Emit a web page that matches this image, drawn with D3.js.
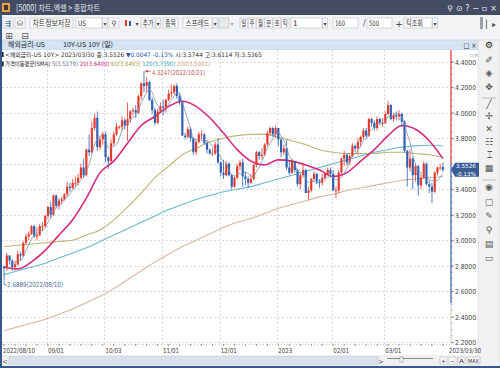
<!DOCTYPE html>
<head>
  <meta charset="utf-8" />
  <script src="https://cdn.jsdelivr.net/npm/d3@7/dist/d3.min.js"></script>
  <style>
    body { margin: 0; background: #fff; }
    svg { display: block; font-family: "Noto Sans CJK KR", "Noto Sans", sans-serif; }
  </style>
</head>
<body>
  <svg width="500" height="368"></svg>
  <script>
    // daily candles, US 10Y yield
    const dates = ["2022/08/10","2022/08/11","2022/08/12","2022/08/15","2022/08/16","2022/08/17","2022/08/18","2022/08/19","2022/08/22","2022/08/23","2022/08/24","2022/08/25","2022/08/26","2022/08/29","2022/08/30","2022/08/31",
      "2022/09/01","2022/09/02","2022/09/06","2022/09/07","2022/09/08","2022/09/09","2022/09/12","2022/09/13","2022/09/14","2022/09/15","2022/09/16","2022/09/19","2022/09/20","2022/09/21","2022/09/22","2022/09/23","2022/09/26","2022/09/27","2022/09/28","2022/09/29","2022/09/30",
      "2022/10/03","2022/10/04","2022/10/05","2022/10/06","2022/10/07","2022/10/10","2022/10/11","2022/10/12","2022/10/13","2022/10/14","2022/10/17","2022/10/18","2022/10/19","2022/10/20","2022/10/21","2022/10/24","2022/10/25","2022/10/26","2022/10/27","2022/10/28","2022/10/31",
      "2022/11/01","2022/11/02","2022/11/03","2022/11/04","2022/11/07","2022/11/08","2022/11/09","2022/11/10","2022/11/11","2022/11/14","2022/11/15","2022/11/16","2022/11/17","2022/11/18","2022/11/21","2022/11/22","2022/11/23","2022/11/25","2022/11/28","2022/11/29","2022/11/30",
      "2022/12/01","2022/12/02","2022/12/05","2022/12/06","2022/12/07","2022/12/08","2022/12/09","2022/12/12","2022/12/13","2022/12/14","2022/12/15","2022/12/16","2022/12/19","2022/12/20","2022/12/21","2022/12/22","2022/12/23","2022/12/27","2022/12/28","2022/12/29","2022/12/30",
      "2023/01/03","2023/01/04","2023/01/05","2023/01/06","2023/01/09","2023/01/10","2023/01/11","2023/01/12","2023/01/13","2023/01/17","2023/01/18","2023/01/19","2023/01/20","2023/01/23","2023/01/24","2023/01/25","2023/01/26","2023/01/27","2023/01/30","2023/01/31",
      "2023/02/01","2023/02/02","2023/02/03","2023/02/06","2023/02/07","2023/02/08","2023/02/09","2023/02/10","2023/02/13","2023/02/14","2023/02/15","2023/02/16","2023/02/17","2023/02/21","2023/02/22","2023/02/23","2023/02/24","2023/02/27","2023/02/28",
      "2023/03/01","2023/03/02","2023/03/03","2023/03/06","2023/03/07","2023/03/08","2023/03/09","2023/03/10","2023/03/13","2023/03/14","2023/03/15","2023/03/16","2023/03/17","2023/03/20","2023/03/21","2023/03/22","2023/03/23","2023/03/24","2023/03/27","2023/03/28","2023/03/29","2023/03/30"];

    const open = [2.79,2.78,2.88,2.84,2.79,2.81,2.89,2.88,2.98,3.03,3.05,3.11,3.03,3.04,3.11,3.11,
      3.19,3.26,3.20,3.35,3.27,3.31,3.32,3.36,3.42,3.41,3.45,3.45,3.49,3.57,3.51,3.71,3.69,3.88,3.96,3.73,3.79,
      3.83,3.65,3.62,3.76,3.83,3.89,3.89,3.94,3.90,3.95,4.01,4.02,4.00,4.13,4.23,4.21,4.24,4.10,4.02,3.92,4.01,
      4.05,4.04,4.10,4.15,4.16,4.21,4.13,4.09,3.82,3.81,3.87,3.80,3.69,3.77,3.83,3.83,3.76,3.71,3.68,3.68,3.75,
      3.61,3.53,3.51,3.60,3.51,3.42,3.49,3.58,3.61,3.50,3.48,3.45,3.48,3.59,3.69,3.66,3.67,3.75,3.84,3.88,3.83,
      3.88,3.79,3.69,3.72,3.57,3.53,3.62,3.55,3.44,3.51,3.55,3.37,3.39,3.48,3.52,3.46,3.45,3.49,3.52,3.55,
      3.52,3.39,3.39,3.53,3.64,3.67,3.61,3.66,3.74,3.72,3.77,3.81,3.86,3.82,3.95,3.92,3.88,3.95,3.92,
      3.92,3.99,4.06,3.95,3.98,3.97,3.99,3.93,3.70,3.57,3.64,3.51,3.58,3.43,3.49,3.60,3.44,3.42,3.38,3.53,3.57,3.5744];
    const high = [2.80,2.90,2.88,2.85,2.84,2.92,2.91,2.99,3.05,3.07,3.12,3.12,3.10,3.13,3.14,3.20,
      3.27,3.30,3.36,3.36,3.33,3.34,3.37,3.46,3.45,3.48,3.50,3.52,3.60,3.64,3.72,3.83,3.93,3.99,4.01,3.82,3.85,
      3.85,3.66,3.79,3.85,3.92,3.90,3.97,3.96,4.08,4.02,4.04,4.06,4.14,4.24,4.3247,4.28,4.25,4.12,4.04,4.03,4.08,
      4.10,4.11,4.18,4.22,4.22,4.23,4.16,4.09,3.84,3.89,3.89,3.81,3.79,3.85,3.86,3.84,3.78,3.72,3.72,3.77,3.80,
      3.62,3.63,3.62,3.61,3.52,3.50,3.60,3.63,3.64,3.54,3.50,3.52,3.60,3.70,3.70,3.72,3.76,3.86,3.89,3.89,3.90,
      3.88,3.80,3.75,3.79,3.62,3.64,3.62,3.56,3.52,3.60,3.56,3.42,3.49,3.54,3.53,3.48,3.52,3.53,3.57,3.57,
      3.55,3.42,3.55,3.65,3.70,3.68,3.68,3.76,3.75,3.80,3.82,3.88,3.88,3.96,3.96,3.94,3.97,3.96,3.96,
      4.01,4.09,4.07,4.00,4.01,4.02,4.00,3.94,3.71,3.71,3.65,3.60,3.59,3.52,3.62,3.61,3.47,3.45,3.54,3.58,3.60,3.6114];
    const low = [2.6889,2.76,2.81,2.76,2.76,2.80,2.84,2.87,2.97,3.00,3.04,3.02,3.00,3.03,3.07,3.10,
      3.17,3.18,3.19,3.25,3.24,3.28,3.31,3.34,3.38,3.40,3.42,3.43,3.48,3.49,3.50,3.66,3.68,3.86,3.70,3.71,3.75,
      3.61,3.56,3.60,3.74,3.82,3.87,3.86,3.87,3.78,3.92,3.98,3.96,3.99,4.10,4.16,4.16,4.09,3.99,3.90,3.91,4.00,
      3.98,4.00,4.09,4.12,4.14,4.11,4.06,3.82,3.79,3.80,3.77,3.67,3.67,3.76,3.79,3.75,3.68,3.67,3.66,3.67,3.60,
      3.50,3.48,3.50,3.50,3.40,3.41,3.48,3.55,3.42,3.43,3.41,3.44,3.47,3.57,3.63,3.63,3.66,3.74,3.82,3.81,3.80,
      3.74,3.65,3.67,3.55,3.51,3.52,3.53,3.42,3.40,3.49,3.37,3.32,3.38,3.46,3.44,3.41,3.43,3.47,3.51,3.49,
      3.39,3.33,3.37,3.52,3.58,3.59,3.59,3.65,3.69,3.67,3.73,3.79,3.80,3.81,3.89,3.86,3.86,3.90,3.89,
      3.91,3.98,3.94,3.93,3.94,3.94,3.89,3.69,3.42,3.54,3.40,3.46,3.35,3.40,3.48,3.43,3.37,3.29,3.37,3.51,3.55,3.5365];
    const close = [2.78,2.88,2.84,2.79,2.81,2.89,2.88,2.98,3.03,3.05,3.11,3.03,3.04,3.11,3.11,3.19,
      3.26,3.20,3.35,3.27,3.31,3.32,3.36,3.42,3.41,3.45,3.45,3.49,3.57,3.51,3.71,3.69,3.88,3.96,3.73,3.79,3.83,
      3.65,3.62,3.76,3.83,3.89,3.89,3.94,3.90,3.95,4.01,4.02,4.00,4.13,4.23,4.21,4.24,4.10,4.02,3.92,4.01,4.05,
      4.04,4.10,4.15,4.16,4.21,4.13,4.09,3.82,3.81,3.87,3.80,3.69,3.77,3.83,3.83,3.76,3.71,3.68,3.68,3.75,3.61,
      3.53,3.51,3.60,3.51,3.42,3.49,3.58,3.61,3.50,3.48,3.45,3.48,3.59,3.69,3.66,3.67,3.75,3.84,3.88,3.83,3.88,
      3.79,3.69,3.72,3.57,3.53,3.62,3.55,3.44,3.51,3.55,3.37,3.39,3.48,3.52,3.46,3.45,3.49,3.52,3.55,3.52,
      3.39,3.39,3.53,3.64,3.67,3.61,3.66,3.74,3.72,3.77,3.81,3.86,3.82,3.95,3.92,3.88,3.95,3.92,3.92,
      3.99,4.06,3.95,3.98,3.97,3.99,3.93,3.70,3.57,3.64,3.51,3.58,3.43,3.49,3.60,3.44,3.42,3.38,3.53,3.57,3.57,3.5526];
    // change shown in the header line for the last day
    const lastChange = -0.0047;
    const lastChangePct = -0.13;

    // moving averages every 5th bar
    const maIdx = [0,5,10,15,20,25,30,35,40,45,50,55,60,65,70,75,80,85,90,95,100,105,110,115,120,125,130,135,140,145,150,155,160];
    const ma20 = [2.79,2.775,2.83,2.92,3.04,3.16,3.33,3.53,3.62,3.76,3.90,3.97,4.05,4.09,4.05,3.96,3.84,3.71,3.62,3.59,3.63,3.62,3.59,3.55,3.50,3.53,3.62,3.71,3.82,3.90,3.87,3.78,3.64];
    const ma60 = [2.95,2.96,2.97,2.98,2.99,3.00,3.04,3.08,3.16,3.26,3.37,3.49,3.58,3.67,3.72,3.77,3.80,3.82,3.83,3.83,3.81,3.78,3.75,3.71,3.69,3.68,3.68,3.68,3.69,3.69,3.68,3.67,3.6493];
    const ma120 = [2.73,2.76,2.79,2.82,2.86,2.90,2.94,2.99,3.04,3.09,3.14,3.19,3.24,3.28,3.32,3.35,3.38,3.40,3.42,3.45,3.48,3.51,3.54,3.57,3.60,3.63,3.66,3.69,3.71,3.73,3.74,3.745,3.739];
    const ma200 = [2.29,2.32,2.35,2.38,2.42,2.46,2.51,2.56,2.62,2.69,2.76,2.83,2.89,2.95,3.00,3.05,3.10,3.14,3.17,3.21,3.25,3.28,3.31,3.34,3.36,3.39,3.41,3.43,3.45,3.47,3.48,3.49,3.5001];
    // last values printed in the SMA legend
    const smaPeriods = [5, 20, 60, 120, 200];
    const smaLast = [3.5179, 3.6400, 3.6493, 3.7390, 3.5001];

    const xTickDates = ["2022/09/01","2022/10/03","2022/11/01","2022/12/01","2023/01/03","2023/02/01","2023/03/01"];
    const xTickLabels = ["09/01","10/03","11/01","12/01","2023","02/01","03/01"];
    const yTicks = [2.2,2.4,2.6,2.8,3.0,3.2,3.4,3.6,3.8,4.0,4.2,4.4];

    const svg = d3.select("svg");
    const n = dates.length;
    const last = n - 1;
    const NUM = "DejaVu Sans";
    const MIX = '"DejaVu Sans", "Noto Sans CJK KR", sans-serif';

    function txt(g, x, y, s, o = {}) {
      const t = g.append("text").attr("x", x).attr("y", y).text(s)
        .attr("font-size", o.size || 8).attr("fill", o.fill || "#333")
        .attr("text-anchor", o.anchor || "start");
      if (o.f) t.attr("font-family", o.f);
      if (o.w) t.attr("textLength", o.w).attr("lengthAdjust", "spacingAndGlyphs");
      return t;
    }
    // one text line made of coloured pieces
    function multi(x, y, w, parts, size) {
      const t = svg.append("text").attr("x", x).attr("y", y).attr("font-size", size)
        .attr("font-family", MIX).attr("textLength", w).attr("lengthAdjust", "spacingAndGlyphs")
        .attr("xml:space", "preserve");
      parts.forEach(p => t.append("tspan").attr("fill", p[1]).text(p[0]));
      return t;
    }

    // ---- window chrome ----
    svg.append("rect").attr("width", 500).attr("height", 368).attr("fill", "#f2f3f5");
    svg.append("rect").attr("width", 500).attr("height", 15).attr("fill", "#434c63");
    svg.append("rect").attr("x", 2).attr("y", 3).attr("width", 8).attr("height", 9).attr("fill", "#e3a23a");
    svg.append("rect").attr("x", 4).attr("y", 5).attr("width", 4).attr("height", 5).attr("fill", "#433");
    txt(svg, 16, 11, "[5000] 차트,엑셀 > 종합차트", { fill: "#e8edf4", size: 8.5, w: 84 });
    txt(svg, 447, 11, "⚲ ⊙ ?  −  ▫  ×", { fill: "#e8edf4", size: 8, w: 50, f: NUM });

    // toolbar row
    function btn(x, w, label, o = {}) {
      svg.append("rect").attr("x", x).attr("y", 18).attr("width", w).attr("height", 10)
        .attr("fill", o.fill || "#fbfbfb").attr("stroke", "#b9c0ca").attr("stroke-width", 0.6);
      if (label) txt(svg, o.left ? x + 2 : x + w / 2, 26, label,
        { size: 7.5, fill: o.tc || "#333", anchor: o.left ? "start" : "middle", w: o.tw, f: o.f });
      if (o.drop) {
        svg.append("rect").attr("x", x + w + 0.5).attr("y", 18).attr("width", 5).attr("height", 10)
          .attr("fill", "#f3f3f3").attr("stroke", "#b9c0ca").attr("stroke-width", 0.6);
        txt(svg, x + w + 3, 25.5, "▾", { size: 6, anchor: "middle", fill: "#444", f: NUM });
      }
    }
    btn(3, 10, "⇶", { tc: "#3a5fa0", f: NUM });
    btn(15, 10, "⛁", { tc: "#555", f: NUM });
    btn(30, 43, "차트정보저장", { tw: 38 });
    btn(76, 26, "US", { left: true, fill: "#fff", drop: true, tw: 8, f: NUM });
    btn(109, 10, "⚲", { tc: "#444", f: NUM });
    svg.append("rect").attr("x", 125).attr("y", 20).attr("width", 2).attr("height", 6).attr("fill", "#e03a2c");
    svg.append("rect").attr("x", 129).attr("y", 21).attr("width", 2).attr("height", 5).attr("fill", "#2a5db0");
    txt(svg, 137, 25.5, "▾", { size: 6, anchor: "middle", fill: "#444", f: NUM });
    btn(141, 14, "추가", { drop: true, tw: 11 });
    btn(163, 15, "종목", { tw: 11 });
    btn(183, 29, "스프레드", { drop: true, tw: 24 });
    btn(219, 10, "", { fill: "#e9e9e9" });
    txt(svg, 232, 25.5, "▾", { size: 6, anchor: "middle", fill: "#aaa", f: NUM });
    ["일", "주", "월", "분", "초", "틱"].forEach((s, i) => btn(240 + i * 8.3, 7.6, s, { tw: 5 }));
    btn(291, 31, "1", { left: true, fill: "#fff", drop: true, f: NUM });
    btn(333, 25, "160", { left: true, fill: "#fff", tw: 10, f: NUM });
    txt(svg, 363, 26, "/", { size: 8, fill: "#555", f: NUM });
    btn(367, 25, "500", { left: true, fill: "#fff", tw: 10, f: NUM });
    txt(svg, 399, 26.5, "+", { size: 9, anchor: "middle", fill: "#333", f: NUM });
    btn(404, 28, "틱조회", { left: true, drop: true, tw: 17 });
    svg.append("rect").attr("x", 480).attr("y", 17).attr("width", 3).attr("height", 12).attr("fill", "#9aa3ad");
    txt(svg, 491, 27, "▏▸", { size: 8, anchor: "middle", fill: "#555", f: NUM });
    // second toolbar row
    txt(svg, 9, 38.5, "⊞", { size: 9, anchor: "middle", fill: "#555", f: NUM });
    txt(svg, 25, 38.5, "⊟", { size: 9, anchor: "middle", fill: "#555", f: NUM });

    // chart panel header
    svg.append("rect").attr("x", 2).attr("y", 40).attr("width", 476).attr("height", 10)
      .attr("fill", "#d5e4f2").attr("stroke", "#b3c6da").attr("stroke-width", 0.5);
    txt(svg, 8, 47.2, "해외금리-US", { size: 6.8, fill: "#223", w: 37 });
    txt(svg, 63, 47.2, "10Y-US 10Y (일)", { size: 6.8, fill: "#223", w: 50 });
    txt(svg, 470, 48, "□ ×", { size: 7.5, anchor: "middle", fill: "#333", w: 13, f: NUM });

    // chart body
    svg.append("rect").attr("x", 2).attr("y", 50).attr("width", 476).attr("height", 305).attr("fill", "#fff");
    txt(svg, 474, 57, "▭×", { size: 5.5, anchor: "middle", fill: "#777", w: 9, f: NUM });

    // right tool strip
    svg.append("rect").attr("x", 478).attr("y", 40).attr("width", 22).attr("height", 328)
      .attr("fill", "#f1f1f1").attr("stroke", "#c5cad1").attr("stroke-width", 0.5);
    const tools = ["⚙", "✐", "◈", "✥", "╱", "✢", "✕", "☷", "⌶", "▦", "◉", "▢", "✎", "⚲", "▤", "▭"];
    const toolY = [48, 63, 76, 90, 107, 119, 132, 145, 158, 171, 190, 205, 219, 233, 247, 261];
    tools.forEach((s, i) => txt(svg, 489, toolY[i], s, { size: 9, anchor: "middle", fill: i === 0 ? "#222" : "#555", f: NUM }));
    svg.append("line").attr("x1", 482).attr("x2", 496).attr("y1", 98).attr("y2", 98).attr("stroke", "#bbb");
    svg.append("line").attr("x1", 482).attr("x2", 496).attr("y1", 180).attr("y2", 180).attr("stroke", "#bbb");

    // borders
    svg.append("rect").attr("x", 0).attr("y", 15).attr("width", 2).attr("height", 353).attr("fill", "#35598f");
    svg.append("rect").attr("x", 0).attr("y", 366).attr("width", 500).attr("height", 2).attr("fill", "#35598f");

    // ---- scales ----
    const x = d3.scaleBand().domain(dates).range([3, 444]).paddingInner(0.22);
    const xc = d => x(d) + x.bandwidth() / 2;
    const y = d3.scaleLinear().domain([2.2, 4.4]).range([342.2, 61.7]);

    svg.append("clipPath").attr("id", "plot").append("rect")
      .attr("x", 2).attr("y", 50).attr("width", 449).attr("height", 294);

    // grid
    const grid = svg.append("g").attr("stroke", "#dadada").attr("stroke-dasharray", "2,2")
      .attr("shape-rendering", "crispEdges");
    grid.selectAll(".h").data(yTicks).enter().append("line")
      .attr("x1", 2).attr("x2", 451).attr("y1", d => Math.round(y(d)) + 0.5).attr("y2", d => Math.round(y(d)) + 0.5);
    grid.selectAll(".v").data(xTickDates).enter().append("line")
      .attr("x1", d => Math.round(x(d)) + 0.5).attr("x2", d => Math.round(x(d)) + 0.5).attr("y1", 50).attr("y2", 344);

    const plot = svg.append("g").attr("clip-path", "url(#plot)");

    // moving averages
    const ma5 = close.map((c, i) => i < 4 ? null : d3.mean(close.slice(i - 4, i + 1)));
    const line = d3.line().defined(d => d[1] != null).x(d => xc(dates[d[0]])).y(d => y(d[1])).curve(d3.curveMonotoneX);
    const maSeries = [
      { v: ma200, c: "#d9b6a3", w: 1.1 },
      { v: ma120, c: "#6cb8cf", w: 1.1 },
      { v: ma60, c: "#bdb476", w: 1.1 },
      { v: ma20, c: "#d6297f", w: 1.6 }
    ];
    maSeries.forEach(s => {
      plot.append("path").attr("fill", "none").attr("stroke", s.c).attr("stroke-width", s.w)
        .attr("d", line(maIdx.map((k, i) => [k, s.v[i]])));
    });

    // candles
    const up = "#e5382c", down = "#2d5fb2";
    const candles = plot.selectAll(".c").data(d3.range(n)).enter().append("g");
    candles.append("line")
      .attr("x1", i => xc(dates[i])).attr("x2", i => xc(dates[i]))
      .attr("y1", i => y(high[i])).attr("y2", i => y(low[i]))
      .attr("stroke", i => close[i] >= open[i] ? up : down).attr("stroke-width", 0.8);
    candles.append("rect")
      .attr("x", i => x(dates[i])).attr("width", x.bandwidth())
      .attr("y", i => y(Math.max(open[i], close[i])))
      .attr("height", i => Math.max(0.9, Math.abs(y(open[i]) - y(close[i]))))
      .attr("fill", i => close[i] >= open[i] ? up : down);

    plot.append("path").attr("fill", "none").attr("stroke", "#7d8fae").attr("stroke-width", 0.8)
      .attr("d", line(close.map((c, i) => [i, ma5[i]])));

    // high / low markers
    const hi = d3.maxIndex(high), lo = d3.minIndex(low);
    const hx = xc(dates[hi]), hy = y(high[hi]);
    svg.append("line").attr("x1", hx + 1).attr("x2", hx + 7).attr("y1", hy).attr("y2", hy).attr("stroke", "#c94a48").attr("stroke-width", 0.7);
    svg.append("path").attr("d", `M${hx + 1},${hy}l3,-1.5v3z`).attr("fill", "#c94a48");
    txt(svg, hx + 8, hy + 3.3, `${high[hi].toFixed(4)}(${dates[hi]})`, { size: 6.6, fill: "#c0504d", w: 53, f: NUM });
    const lx = xc(dates[lo]), ly = y(low[lo]);
    svg.append("path").attr("d", `M${lx},${ly}V${ly + 5}H${lx + 3}`).attr("fill", "none").attr("stroke", "#4d6d9c").attr("stroke-width", 0.7);
    txt(svg, lx + 3, ly + 7.5, `${low[lo].toFixed(4)}(${dates[lo]})`, { size: 6.8, fill: "#4d6d9c", w: 56, f: NUM });

    // ---- y axis ----
    const cy = y(close[last]);
    const yAxis = d3.axisRight(y).tickValues(yTicks.filter(t => Math.abs(y(t) - cy) > 9))
      .tickFormat(d3.format(".4f")).tickSize(3);
    const ya = svg.append("g").attr("transform", "translate(451,0)").call(yAxis);
    ya.select(".domain").remove();
    ya.selectAll("line").attr("stroke", "#888");
    ya.selectAll("text").attr("font-family", NUM).attr("font-size", 6.8).attr("fill", "#444")
      .attr("x", 4).attr("dy", "0.35em").attr("textLength", 21).attr("lengthAdjust", "spacingAndGlyphs");
    ya.append("g").selectAll("line").data(d3.range(2.25, 4.45, 0.05)).enter().append("line")
      .attr("x1", 0).attr("x2", 1.5).attr("y1", d => y(d)).attr("y2", d => y(d)).attr("stroke", "#aaa");
    svg.append("line").attr("x1", 451).attr("x2", 451).attr("y1", 50).attr("y2", cy - 6).attr("stroke", "#e0322c").attr("stroke-width", 1.2);
    svg.append("line").attr("x1", 451).attr("x2", 451).attr("y1", cy - 6).attr("y2", 303).attr("stroke", "#35599a").attr("stroke-width", 1.2);
    svg.append("line").attr("x1", 451).attr("x2", 451).attr("y1", 303).attr("y2", 344).attr("stroke", "#c9c9c9").attr("stroke-width", 1);
    svg.append("path").attr("d", `M451,${cy}L455,${cy - 7}H479V${cy + 7}H455Z`).attr("fill", "#3b5b95");
    txt(svg, 466, cy - 1.3, close[last].toFixed(4), { size: 5.6, anchor: "middle", fill: "#fff", w: 20, f: NUM });
    txt(svg, 466, cy + 5.8, lastChangePct.toFixed(2) + "%", { size: 5.6, anchor: "middle", fill: "#fff", w: 20, f: NUM });

    // ---- x axis ----
    const xAxis = d3.axisBottom(x).tickValues(xTickDates)
      .tickFormat(d => xTickLabels[xTickDates.indexOf(d)]).tickSize(0);
    const xa = svg.append("g").attr("transform", "translate(0,344)").call(xAxis);
    xa.select(".domain").remove();
    xa.selectAll("text").attr("font-family", NUM).attr("font-size", 6.8).attr("fill", "#444")
      .attr("text-anchor", "start").attr("dy", null).attr("y", 9)
      .attr("x", -x.bandwidth() / 2 + 1)
      .attr("textLength", d => d.endsWith("01/03") ? 14 : 16).attr("lengthAdjust", "spacingAndGlyphs");
    svg.append("line").attr("x1", 2).attr("x2", 451).attr("y1", 344.5).attr("y2", 344.5)
      .attr("stroke", "#c8c8c8").attr("stroke-dasharray", "1,2");
    svg.append("g").selectAll("line").data(dates.filter((d, i) => i % 4 === 0)).enter().append("line")
      .attr("x1", d => xc(d)).attr("x2", d => xc(d)).attr("y1", 344).attr("y2", 346).attr("stroke", "#999");
    txt(svg, x(dates[0]), 353, dates[0], { size: 6.8, fill: "#444", w: 32, f: NUM });
    txt(svg, 481, 353, dates[last], { size: 6.8, fill: "#444", anchor: "end", w: 32, f: NUM });

    // ---- legend lines ----
    svg.append("rect").attr("x", 2).attr("y", 52).attr("width", 1.6).attr("height", 5).attr("fill", "#222");
    multi(5, 56.6, 257, [
      ["<해외금리-US 10Y> 2023/03/30 종:" + close[last].toFixed(4) + " ", "#333"],
      ["▼" + Math.abs(lastChange).toFixed(4) + " " + lastChangePct.toFixed(2) + "% ", "#2250b8"],
      [`시:${open[last].toFixed(4)} 고:${high[last].toFixed(4)} 저:${low[last].toFixed(4)}`, "#333"]
    ], 6.2);

    svg.append("rect").attr("x", 2).attr("y", 61.5).attr("width", 1.6).attr("height", 5).attr("fill", "#222");
    const legendCol = ["#5d7194", "#d6297f", "#b0a54e", "#3aa3c6", "#d6a47c"];
    multi(5, 66.2, 205, [["가격이동평균(SMA) ", "#333"]].concat(
      smaPeriods.map((p, i) => [`${p}(${smaLast[i].toFixed(4)})` + (i < 4 ? " " : ""), legendCol[i]])), 6.2);

    // ---- bottom scroll bar ----
    svg.append("rect").attr("x", 2).attr("y", 355).attr("width", 476).attr("height", 11).attr("fill", "#f0f0f0");
    txt(svg, 5, 363.5, "<", { size: 7, anchor: "middle", fill: "#555", f: NUM });
    svg.append("rect").attr("x", 9).attr("y", 356.5).attr("width", 369).attr("height", 8)
      .attr("fill", "#d7e2ee").attr("stroke", "#b9c6d5").attr("stroke-width", 0.5);
    txt(svg, 381, 363.5, ">", { size: 7, anchor: "middle", fill: "#555", f: NUM });
    svg.append("line").attr("x1", 387).attr("x2", 433).attr("y1", 358.5).attr("y2", 358.5).attr("stroke", "#888");
    svg.append("rect").attr("x", 400).attr("y", 357).attr("width", 3).attr("height", 5).attr("fill", "#fff").attr("stroke", "#777").attr("stroke-width", 0.5);
    [["+", 440, 7], ["−", 449, 7], ["A", 458, 7], ["MAX", 467, 13]].forEach(b => {
      svg.append("rect").attr("x", b[1]).attr("y", 357).attr("width", b[2]).attr("height", 7)
        .attr("fill", "#fafafa").attr("stroke", "#aab").attr("stroke-width", 0.5);
      txt(svg, b[1] + b[2] / 2, 362.8, b[0], { size: 5.5, anchor: "middle", fill: "#334", w: b[2] - 2, f: NUM });
    });
  </script>
</body>
